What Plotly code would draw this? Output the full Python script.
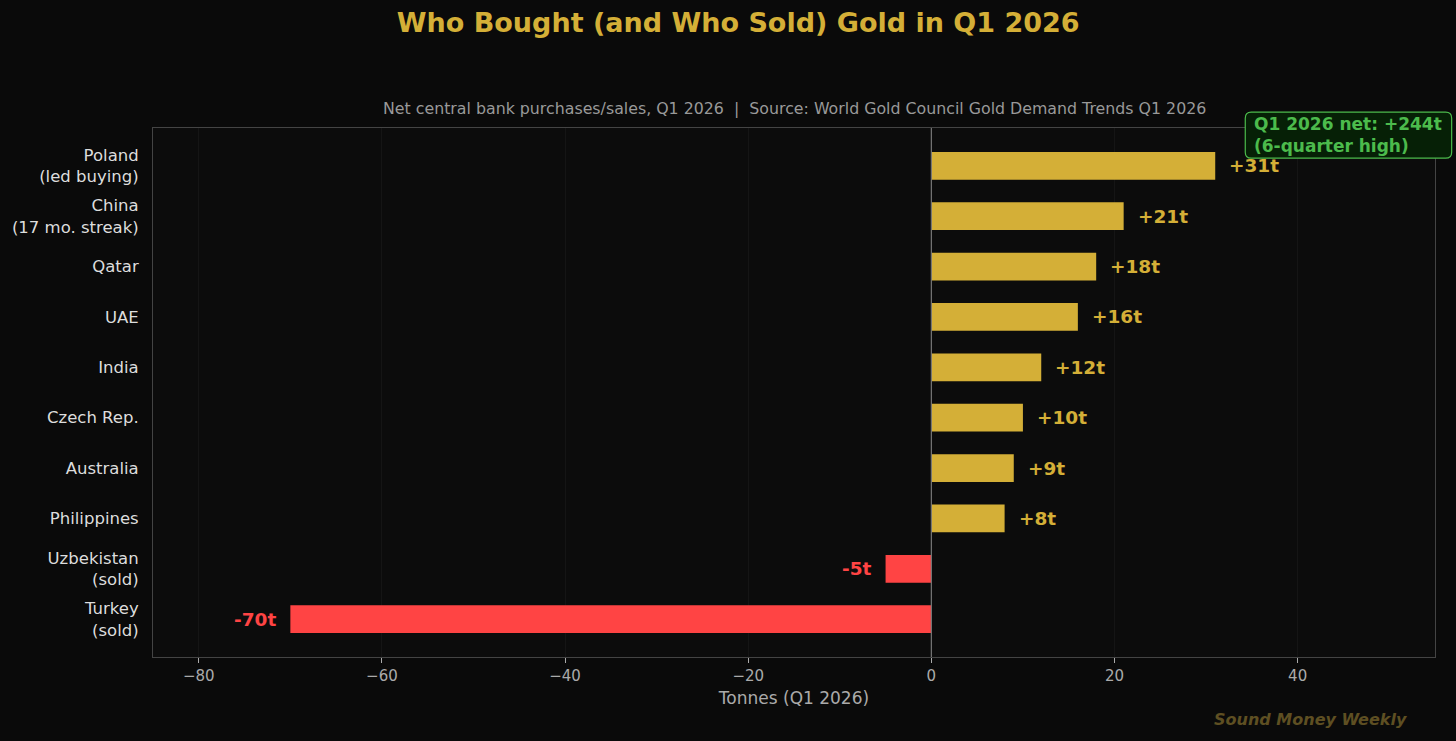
import plotly.graph_objects as go

# data (top to bottom as in chart)
countries = ["Poland<br>(led buying)", "China<br>(17 mo. streak)", "Qatar", "UAE", "India",
             "Czech Rep.", "Australia", "Philippines", "Uzbekistan<br>(sold)", "Turkey<br>(sold)"]
tonnes = [31, 21, 18, 16, 12, 10, 9, 8, -5, -70]
x_ticks = [-80, -60, -40, -20, 0, 20, 40]

GOLD = "#D4AF37"
RED = "#FF4444"
GREEN = "#4CBB4C"
BG = "#0a0a0a"
FONT = "DejaVu Sans"

colors = [GOLD if v >= 0 else RED for v in tonnes]

fig = go.Figure()
fig.add_trace(go.Bar(
    x=tonnes, y=countries, orientation="h",
    marker=dict(color=colors, line=dict(width=0)),
    width=0.55, hoverinfo="x+y", showlegend=False,
))

# value labels next to bars
for c, v, col in zip(countries, tonnes, colors):
    fig.add_annotation(
        x=v, y=c, xref="x", yref="y",
        text="<b>%+dt</b>" % v,
        showarrow=False,
        xanchor="left" if v >= 0 else "right",
        xshift=12 if v >= 0 else -12,
        font=dict(family=FONT, size=18.5, color=col),
    )

# zero line
fig.add_vline(x=0, line=dict(color="#777777", width=1.2))

# subtitle
fig.add_annotation(
    x=0.5, y=1.0, xref="paper", yref="paper", xanchor="center", yanchor="bottom", yshift=8,
    text="Net central bank purchases/sales, Q1 2026  |  Source: World Gold Council Gold Demand Trends Q1 2026",
    showarrow=False, font=dict(family=FONT, size=15.8, color="#999999"),
)

# net box (rounded rectangle drawn as a path, paper coords)
bx0, bx1, by0, by1 = 0.852, 1.013, 0.943, 1.030
rx, ry = 6 / 1284, 6 / 529
box_path = (f"M {bx0+rx},{by0} L {bx1-rx},{by0} Q {bx1},{by0} {bx1},{by0+ry} "
            f"L {bx1},{by1-ry} Q {bx1},{by1} {bx1-rx},{by1} "
            f"L {bx0+rx},{by1} Q {bx0},{by1} {bx0},{by1-ry} "
            f"L {bx0},{by0+ry} Q {bx0},{by0} {bx0+rx},{by0} Z")
fig.add_shape(type="path", path=box_path, xref="paper", yref="paper",
              fillcolor="#062006", line=dict(color=GREEN, width=1.2), layer="above")
fig.add_annotation(
    x=bx0 + 7 / 1284, y=(by0 + by1) / 2, xref="paper", yref="paper", xanchor="left", yanchor="middle",
    text="<b>Q1 2026 net: +244t<br>(6-quarter high)</b>",
    align="left", showarrow=False,
    font=dict(family=FONT, size=17, color=GREEN),
)

# watermark
fig.add_annotation(
    x=0.903, y=-0.119, xref="paper", yref="paper", xanchor="center", yanchor="middle",
    text="<b><i>Sound Money Weekly</i></b>",
    showarrow=False, font=dict(family=FONT, size=16, color="#5e4f22"),
)

fig.update_layout(
    width=1456, height=741,
    paper_bgcolor=BG, plot_bgcolor="#0c0c0c",
    margin=dict(l=151, r=21, t=128, b=84),
    title=dict(text="<b>Who Bought (and Who Sold) Gold in Q1 2026</b>",
               x=0.507, xanchor="center", y=0.97, yanchor="middle",
               font=dict(family=FONT, size=27, color=GOLD)),
    font=dict(family=FONT, color="#aaaaaa"),
)
fig.update_xaxes(
    range=[-85, 55], tickvals=x_ticks,
    showgrid=True, gridcolor="#151515", gridwidth=1, zeroline=False,
    showline=True, linecolor="#444444", mirror=True,
    ticks="outside", ticklen=5, tickcolor="#aaaaaa",
    tickfont=dict(family=FONT, size=15, color="#aaaaaa"),
    title=dict(text="Tonnes (Q1 2026)", font=dict(family=FONT, size=17, color="#aaaaaa"), standoff=8),
)
fig.update_yaxes(
    range=[9.75, -0.75],
    showgrid=False, zeroline=False,
    showline=True, linecolor="#444444", mirror=True,
    ticks="", ticklabelstandoff=10,
    tickfont=dict(family=FONT, size=16.5, color="#dddddd"),
)

fig.write_html("out.html", config={"displayModeBar": False},
               post_script="document.body.style.margin='0';document.body.style.background='#0a0a0a';")
